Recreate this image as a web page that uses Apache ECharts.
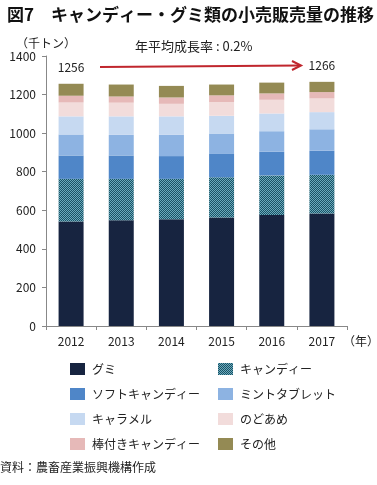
<!DOCTYPE html>
<html>
<head>
<meta charset="utf-8">
<script src="https://cdn.jsdelivr.net/npm/echarts@6/dist/echarts.min.js"></script>
<style>
  html, body { margin: 0; padding: 0; background: #fff; }
  #chart { width: 377px; height: 485px; }
</style>
</head>
<body>
<div id="chart"></div>
<script>
// 年
const years = ['2012', '2013', '2014', '2015', '2016', '2017'];

// 品目別 小売販売量（千トン）
const gummy     = [542, 548, 553, 563, 575, 583];
const candy     = [221, 215, 210, 208, 206, 201];
const softCandy = [121, 121, 118, 121, 123, 125];
const mint      = [109, 107, 110, 106, 106, 111];
const caramel   = [94, 96, 96, 92, 92, 89];
const throat    = [72, 71, 65, 71, 71, 71];
const stick     = [35, 32, 33, 35, 33, 33];
const others    = [62, 62, 60, 56, 56, 53];

const names = ['グミ', 'キャンディー', 'ソフトキャンディー', 'ミントタブレット',
               'キャラメル', 'のどあめ', '棒付きキャンディー', 'その他'];
const values = [gummy, candy, softCandy, mint, caramel, throat, stick, others];

let totals = years.map((y, i) => values.reduce((s, arr) => s + arr[i], 0))
let growth = (Math.pow(totals[5] / totals[0], 1 / 5) - 1) * 100

// キャンディーの網掛け
let pat = document.createElement('canvas')
pat.width = 2
pat.height = 2
let pctx = pat.getContext('2d')
pctx.fillStyle = '#1b5264'
pctx.fillRect(0, 0, 2, 2)
pctx.fillStyle = '#6aaabd'
pctx.fillRect(0, 0, 1, 1)
pctx.fillRect(1, 1, 1, 1)

const colors = ['#172440', {image: pat, repeat: 'repeat'}, '#4f86c8', '#8db3e2',
                '#c6d9f1', '#f2dcdb', '#e6b9b8', '#948a54'];

const font = '"Noto Sans CJK JP", sans-serif';

let chart = echarts.init(document.getElementById('chart'), null, {renderer: 'canvas'})

let series = names.map((n, k) => ({
    name: n,
    type: 'bar',
    stack: 'total',
    barWidth: 25,
    data: values[k],
    itemStyle: {color: colors[k]},
    label: k === names.length - 1 ? {
        show: true,
        position: 'top',
        distance: 10,
        fontSize: 12,
        fontFamily: font,
        color: '#222',
        formatter: p => (p.dataIndex === 0 || p.dataIndex === years.length - 1) ? totals[p.dataIndex] : ''
    } : {show: false},
    emphasis: {disabled: true}
}))

let legendBase = {
    orient: 'vertical',
    icon: 'rect',
    itemWidth: 15,
    itemHeight: 12,
    itemGap: 13,
    top: 358,
    selectedMode: false,
    textStyle: {fontSize: 12, fontFamily: font, color: '#222', padding: [0, 0, 0, 2]}
}

chart.setOption({
    animation: false,
    textStyle: {fontFamily: font},
    title: {
        text: '図7　キャンディー・グミ類の小売販売量の推移',
        left: 2,
        top: 1,
        textStyle: {fontSize: 17, fontWeight: 'bold', fontFamily: font, color: '#111'}
    },
    legend: [
        Object.assign({}, legendBase, {left: 65, data: [names[0], names[2], names[4], names[6]]}),
        Object.assign({}, legendBase, {left: 213, data: [names[1], names[3], names[5], names[7]]})
    ],
    grid: {left: 46, right: 30, top: 56, bottom: 159},
    xAxis: {
        type: 'category',
        data: years,
        axisLine: {lineStyle: {color: '#888'}},
        axisTick: {show: true, length: 4, lineStyle: {color: '#888'}},
        axisLabel: {fontSize: 12, color: '#222', margin: 9}
    },
    yAxis: {
        type: 'value',
        min: 0,
        max: 1400,
        interval: 200,
        name: '（千トン）',
        nameGap: 7,
        nameTextStyle: {fontSize: 12, color: '#222', align: 'center'},
        axisLine: {show: true, lineStyle: {color: '#888'}},
        axisTick: {show: true, length: 4, lineStyle: {color: '#888'}},
        axisLabel: {fontSize: 12, color: '#222', margin: 10, formatter: v => String(v)},
        splitLine: {show: false}
    },
    graphic: [
        {
            type: 'text', left: 135, top: 40,
            style: {text: '年平均成長率 : ' + growth.toFixed(1) + '%', fontSize: 13, fontFamily: font, fill: '#222'}
        },
        {
            type: 'line',
            shape: {x1: 100, y1: 67, x2: 300, y2: 65.5},
            style: {stroke: '#c0262d', lineWidth: 2}
        },
        {
            type: 'polyline',
            shape: {points: [[292, 61], [301, 65.5], [292, 70]]},
            style: {stroke: '#c0262d', lineWidth: 2, fill: null}
        },
        {
            type: 'text', left: 343, top: 335,
            style: {text: '（年）', fontSize: 12, fontFamily: font, fill: '#222'}
        },
        {
            type: 'text', left: 0, top: 461,
            style: {text: '資料：農畜産業振興機構作成', fontSize: 12, fontFamily: font, fill: '#222'}
        }
    ],
    series: series
})
</script>
</body>
</html>
